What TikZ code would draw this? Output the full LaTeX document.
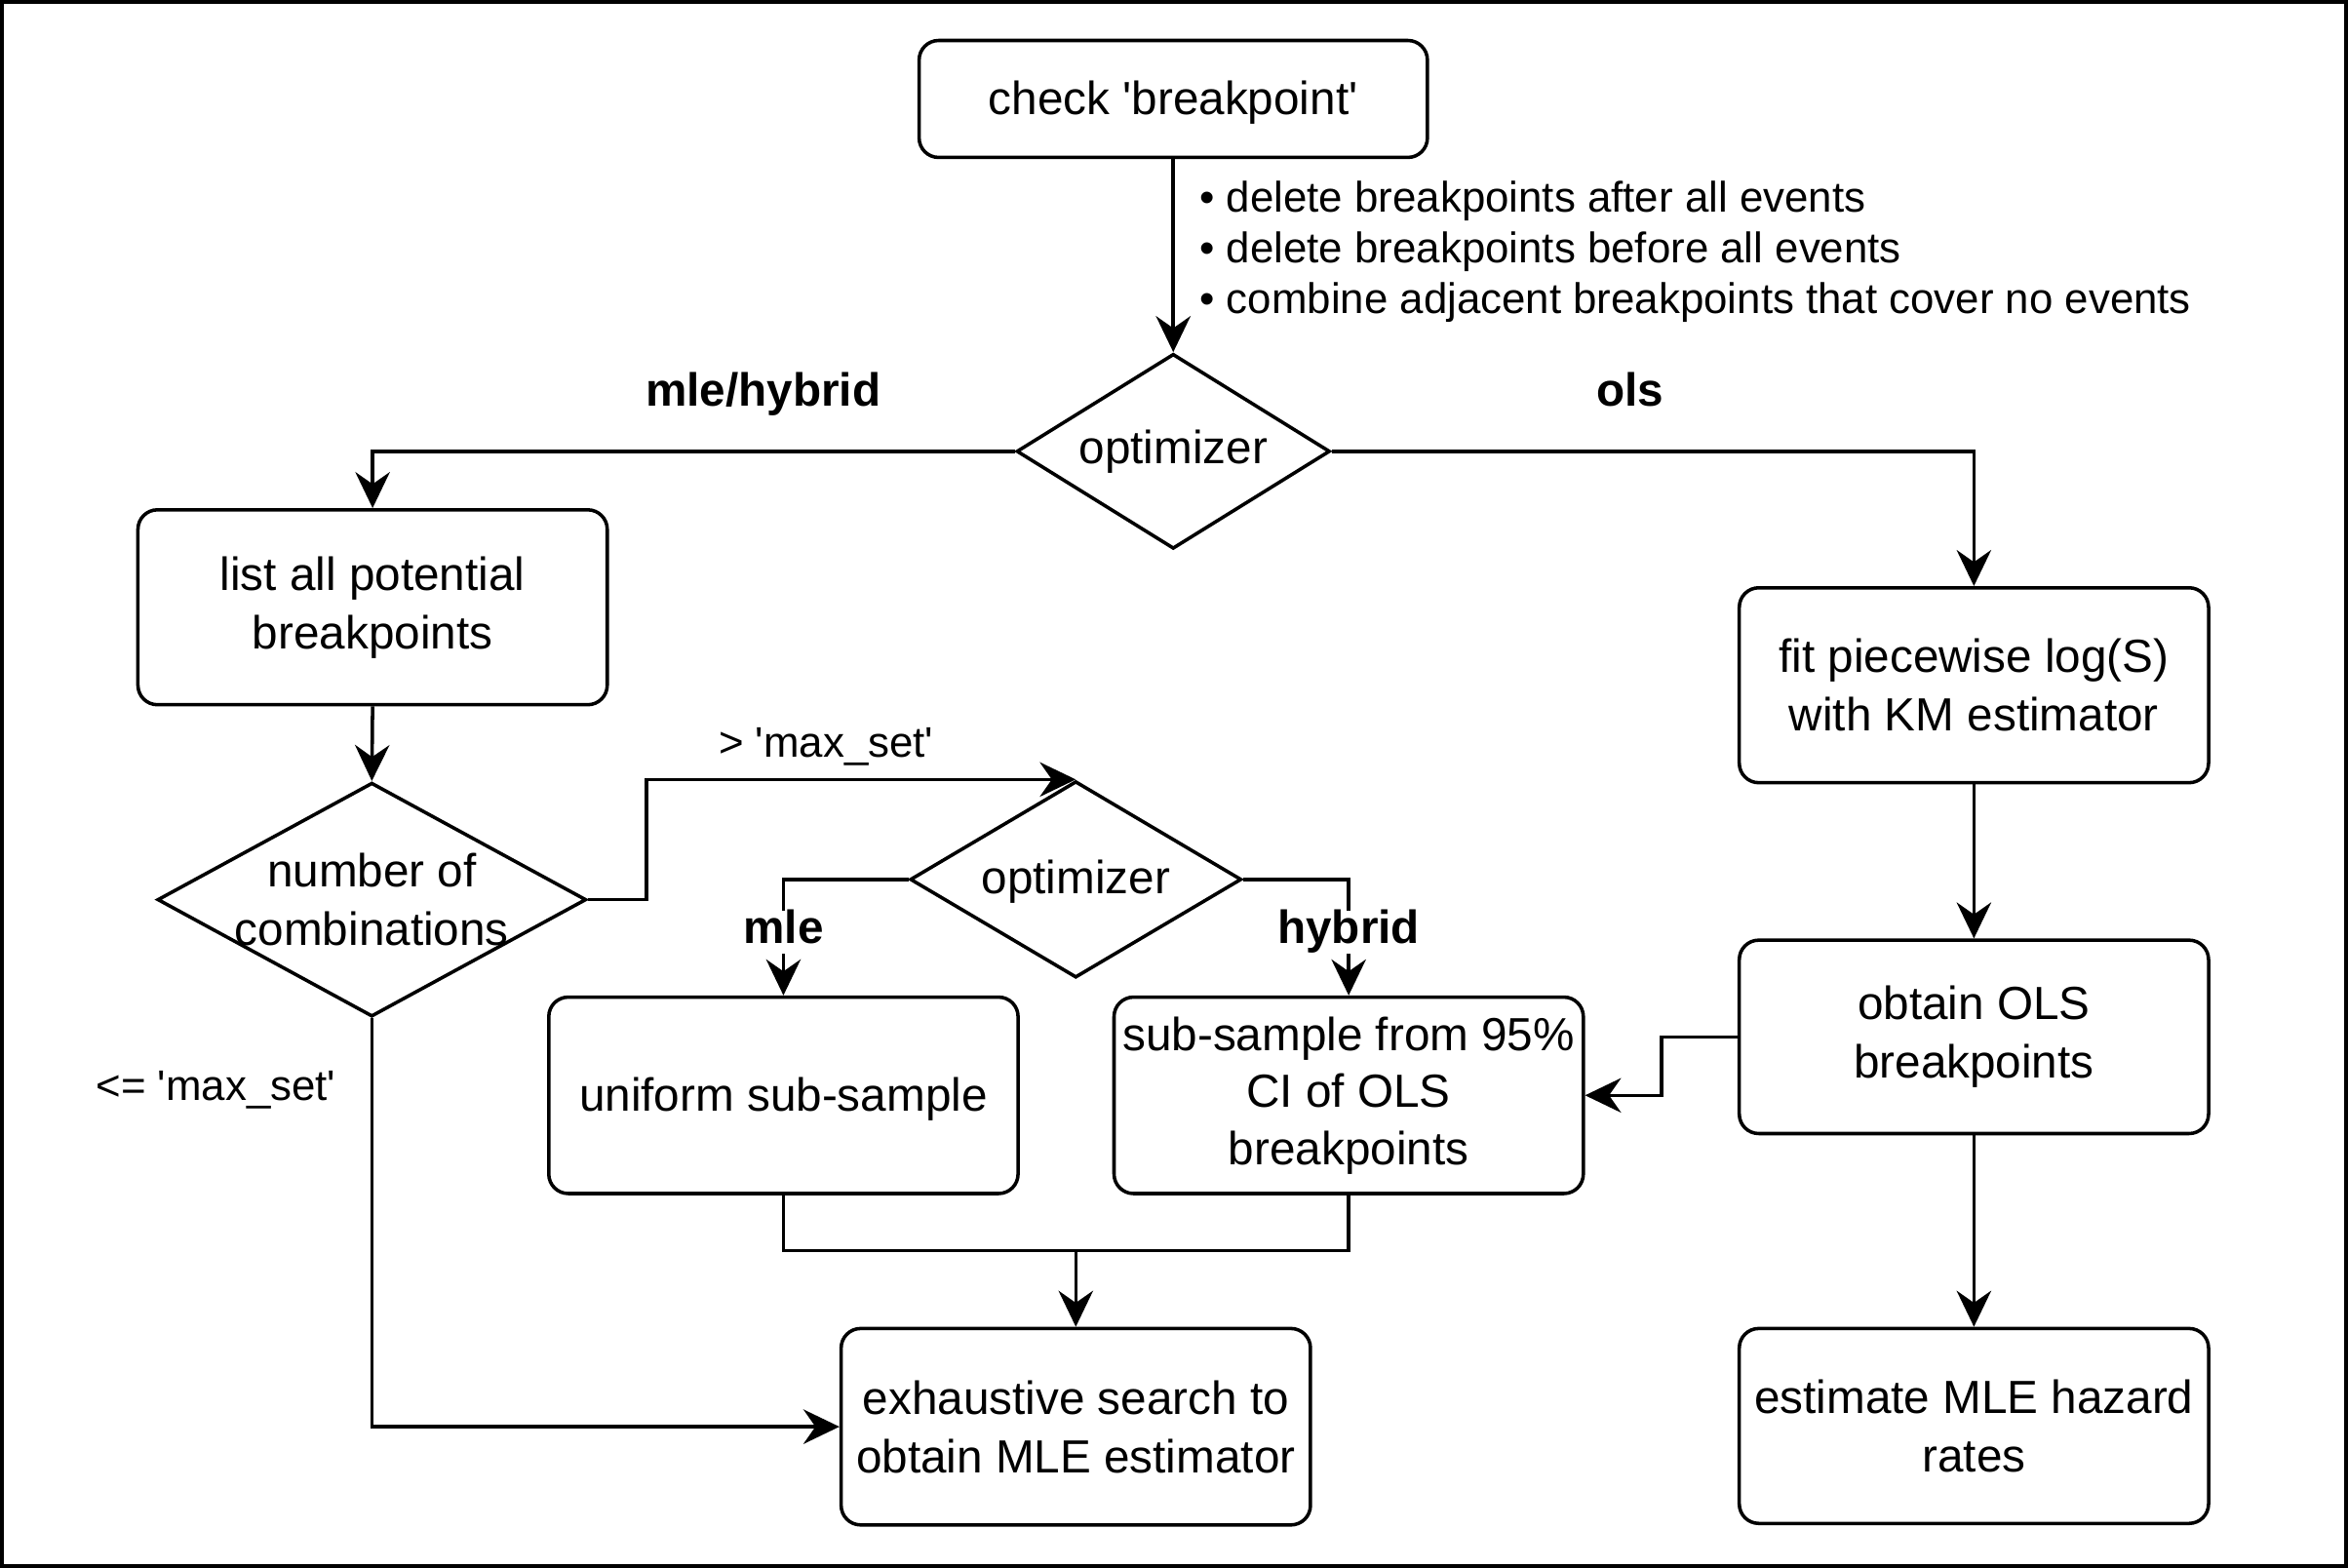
\documentclass[tikz,border=0pt]{standalone}
\usepackage{fontspec}
\setmainfont{Liberation Sans}[Ligatures=TeXOff]
\usetikzlibrary{shapes.geometric,arrows.meta}
\newcommand\lowertext[1]{\raisebox{-2.5pt}[\height][\depth]{#1}}
\tikzset{
  ln/.style={line width=2.3pt},
  arr/.style={ln,-{Stealth[length=24pt,width=23pt,inset=8pt]}},
  stepbox/.style={draw,ln,rounded corners=13pt,minimum width=313pt,minimum height=130pt,
    align=center,inner sep=0pt,font=\fontsize{31}{39}\selectfont},
  dia/.style={draw,ln,diamond,inner sep=0pt},
  diatext/.style={align=center,inner sep=0pt,font=\fontsize{31}{39}\selectfont},
  lbl/.style={inner sep=0pt,font=\fontsize{28.5}{34}\selectfont},
  blbl/.style={inner xsep=1pt,inner ysep=0pt,text height=22pt,text depth=6.5pt,
    font=\fontsize{31}{39}\selectfont\bfseries},
}
\begin{document}
\begin{tikzpicture}[x=1pt,y=-1pt]
\useasboundingbox (0,0) rectangle (1566,1045.7);
\draw[line width=2.6pt] (1.5,1.5) rectangle (1564.5,1044.2);

% boxes
\node[stepbox,minimum width=339pt,minimum height=78pt] (chk) at (782.5,66) {\lowertext{check 'breakpoint'}};
\node[stepbox] (list) at (248.5,405) {list all potential\\breakpoints};
\node[stepbox] (fit) at (1316.5,457) {fit piecewise log(S)\\with KM estimator};
\node[stepbox,minimum height=129pt] (obt) at (1316.5,691.5) {obtain OLS\\breakpoints};
\node[stepbox] (est) at (1316.5,951) {estimate MLE hazard\\rates};
\node[stepbox,minimum height=131pt] (unif) at (522.5,730.5) {\lowertext{uniform sub-sample}};
\node[stepbox,minimum height=131pt,font=\fontsize{31}{38}\selectfont] (sub) at (899.5,730.5) {sub-sample from 95\%\\CI of OLS\\breakpoints};
\node[stepbox,minimum height=131pt] (exh) at (717.5,951.5) {exhaustive search to\\obtain MLE estimator};

% diamonds
\node[dia,minimum width=209pt,minimum height=130pt] (d1) at (782.5,301) {};
\node[diatext] (d1t) at (782.5,301) {optimizer};
\node[dia,minimum width=286pt,minimum height=156pt] (d2) at (248,600) {};
\node[diatext] (d2t) at (248,600) {number of\\combinations};
\node[dia,minimum width=221pt,minimum height=131pt] (d3) at (717.5,586.5) {};
\node[diatext] (d3t) at (717.5,588) {optimizer};

% bullet notes
\node[lbl,anchor=west,align=left] (notes) at (800,168) {• delete breakpoints after all events\\• delete breakpoints before all events\\• combine adjacent breakpoints that cover no events};

% helper coordinates
\coordinate (j1) at (431,600);
\coordinate (j2) at (1108,691.5);
\coordinate (j3) at (717.5,834);

% connectors
\draw[arr] (chk.south) -- (d1.north);
\draw[arr] (d1.west) -| (list.north);
\draw[arr] (d1.east) -| (fit.north);
\draw[arr] (list.south) -- (d2.north);
\draw[arr] (d2.east) -- (j1) |- (d3.north);
\draw[arr] (d3.west) -| (unif.north);
\draw[arr] (d3.east) -| (sub.north);
\draw[arr] (obt.west) -- (j2) |- (sub.east);
\draw[ln] (unif.south) |- (j3) -| (sub.south);
\draw[arr] (j3) -- (exh.north);
\draw[arr] (d2.south) |- (exh.west);
\draw[arr] (fit.south) -- (obt.north);
\draw[arr] (obt.south) -- (est.north);

% labels
\node[blbl] (lmh) at (509,263) {mle/hybrid};
\node[blbl] (lols) at (1087,263) {ols};
\node[lbl] (lgt) at (551,498) {> 'max\_set'};
\node[lbl] (lle) at (144,727) {<= 'max\_set'};
\node[blbl,fill=white] (lmle) at (522.5,621.5) {mle};
\node[blbl,fill=white] (lhyb) at (899.5,621.5) {hybrid};
\end{tikzpicture}
\end{document}
